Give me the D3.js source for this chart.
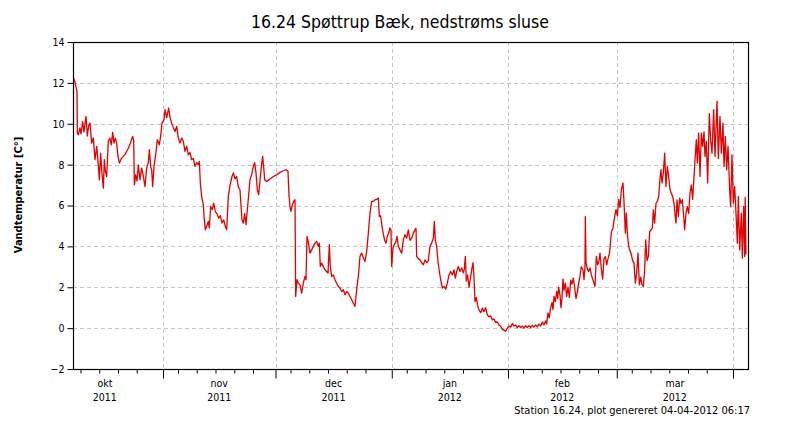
<!DOCTYPE html>
<html><head><meta charset="utf-8">
<script src="https://cdn.jsdelivr.net/npm/d3@7"></script>
<style>
body{margin:0;background:#fff}
text{font-family:"DejaVu Sans Condensed","DejaVu Sans",sans-serif;font-stretch:condensed}
</style>
</head><body>
<svg id="chart" width="800" height="425"></svg>
<script>
// ---- data ----
const titleText = "16.24 Spøttrup Bæk, nedstrøms sluse";
const yAxisTitle = "Vandtemperatur [C°]";
const footerText = "Station 16.24, plot genereret 04-04-2012 06:17";
const domainStart = [2011, 9, 8];   // 8 Oct 2011
const domainEnd = [2012, 3, 5];     // 5 Apr 2012
const yTicks = [-2, 0, 2, 4, 6, 8, 10, 12, 14];
const monthNames = ["okt", "nov", "dec", "jan", "feb", "mar"];
const monthYears = ["2011", "2011", "2011", "2012", "2012", "2012"];
const monthStartDates = ["2011-10-01", "2011-11-01", "2011-12-01", "2012-01-01", "2012-02-01", "2012-03-01", "2012-04-01"];
const minorTickDays = [5, 10, 15, 20, 25];
// days since 8 Oct 2011 00:00
const dayOffsets = [
0,0.44,0.98,1.07,1.16,1.42,1.87,2.13,2.58,2.93,3.47,3.82,4.18,4.53,4.98,5.42,5.87,6.31,6.76,7.02,7.38,7.64,8.09,8.36,8.62,8.98,9.42,9.87,10.22,10.58,10.93,11.29,11.64,12.0,12.36,12.98,13.87,14.76,15.38,15.91,16.18,16.36,16.71,17.07,17.42,17.87,18.31,18.76,19.2,19.64,20.09,20.36,20.71,20.98,21.24,21.6,22.13,22.49,23.02,23.38,23.73,24.27,24.53,24.98,25.51,25.87,26.31,26.76,27.2,27.64,28.09,28.53,28.98,29.42,29.87,30.31,30.76,31.2,31.64,32.09,32.53,32.98,33.42,33.69,33.96,34.31,34.76,35.02,35.29,35.64,36.09,36.36,36.71,37.16,37.51,37.96,38.4,38.84,39.29,39.73,40.18,40.62,40.98,41.42,41.87,42.4,42.76,43.2,43.64,44.09,44.53,
44.8,45.06,45.42,45.78,46.13,46.49,46.84,47.2,47.64,48.09,48.44,48.8,49.15,49.51,49.86,50.22,50.58,50.84,51.11,51.64,52.53,53.42,54.31,55.2,56.09,56.8,57.33,57.6,57.86,58.13,58.49,58.84,59.2,59.38,59.73,60.09,60.53,60.98,61.42,61.86,62.13,62.4,62.76,63.2,63.64,64.09,64.53,64.98,65.42,65.69,65.95,66.31,66.76,67.2,67.64,68.0,68.36,68.62,68.98,69.42,69.87,70.31,70.76,71.2,71.64,72.09,72.53,72.98,73.42,73.87,74.31,74.76,75.2,75.64,76.09,76.53,76.98,77.42,77.87,78.31,78.76,79.2,79.64,80.09,80.53,80.98,81.42,81.69,82.04,82.4,82.76,83.11,83.47,83.82,84.18,84.53,84.8,84.98,85.33,85.69,86.04,86.4,86.76,87.2,87.64,88.09,88.53,88.98,89.42,89.87,90.31,
90.76,91.2,91.47,91.64,92.09,92.53,92.98,93.42,93.87,94.31,94.76,95.2,95.64,96.09,96.36,96.62,96.98,97.33,97.69,98.04,98.49,98.93,99.38,99.82,100.27,100.71,101.16,101.6,101.96,102.31,102.76,103.2,103.64,104.09,104.36,104.62,104.89,105.24,105.6,105.96,106.31,106.67,106.93,107.2,107.56,107.91,108.27,108.71,109.16,109.6,110.04,110.49,110.93,111.38,111.82,112.27,112.71,113.16,113.6,114.04,114.49,114.93,115.38,115.82,116.27,116.71,117.16,117.6,118.04,118.49,118.93,119.38,119.82,120.27,120.71,121.16,121.6,122.04,122.49,122.93,123.38,123.82,124.27,124.71,125.16,125.6,126.04,126.31,126.67,127.02,127.38,127.73,128.0,128.27,128.62,128.98,129.24,129.51,129.87,130.13,130.4,130.67,130.93,131.29,131.64,132.0,132.36,132.71,133.07,133.42,133.78,134.13,134.49,134.84,135.2,135.56,
136.0,136.27,136.53,136.62,136.8,137.16,137.51,137.87,138.22,138.58,138.93,139.2,139.56,139.91,140.27,140.53,140.89,141.24,141.6,141.96,142.31,142.67,143.11,143.56,144.0,144.44,144.8,145.16,145.51,145.87,146.22,146.67,146.93,147.29,147.56,147.82,148.18,148.53,148.89,149.24,149.6,149.96,150.31,150.67,151.02,151.38,151.73,152.09,152.44,152.71,153.07,153.42,153.78,154.13,154.49,154.76,155.11,155.47,155.82,156.18,156.53,156.8,157.07,157.42,157.78,158.13,158.49,158.84,159.2,159.56,159.91,160.27,160.53,160.8,161.07,161.42,161.78,162.13,162.49,162.84,163.11,163.47,163.82,164.18,164.53,164.89,165.24,165.6,165.87,166.22,166.49,166.84,167.2,167.56,167.91,168.27,168.53,168.89,169.24,169.69,170.04,170.4,170.84,171.2,171.73,172.09,172.53,172.89,173.33,173.6,173.96,174.31,174.67,175.11,175.38,175.73,176.09,176.44,176.8,177.16,177.42,177.78,178.22,178.49,178.84,179.11,179.25,179.45
];
const temps = [
12.3,12.1,11.66,11.5,9.54,9.46,9.8,9.5,10.11,9.6,10.36,9.4,9.9,10.03,9.05,9.3,8.24,8.89,7.99,7.26,8.56,7.75,6.85,8.24,7.7,7.42,9.14,9.3,8.97,9.58,9.05,9.3,9.05,8.4,8.08,8.32,8.5,8.8,9.1,9.38,9.2,7.01,7.5,7.2,7.99,7.26,7.83,7.42,6.93,7.83,8.1,8.73,7.9,7.75,6.93,7.9,8.6,9.22,8.97,9.4,10.03,10.2,10.69,10.3,10.77,10.3,10.03,9.8,9.62,9.87,9.3,9.05,9.3,9.14,8.65,8.9,8.48,8.6,8.24,8.3,7.91,8.1,7.99,8.16,7.1,6.44,6.0,5.3,4.81,5.0,5.22,4.9,5.95,5.8,6.12,5.7,5.6,5.38,5.5,5.14,5.3,4.98,4.81,6.44,7.0,7.42,7.59,7.3,7.42,6.9,6.77,
6.0,5.3,5.14,5.6,5.06,5.79,6.5,7.26,7.5,7.91,8.1,7.6,6.77,6.53,7.2,7.9,8.4,7.9,7.26,7.18,7.3,7.42,7.5,7.62,7.7,7.75,7.67,6.5,5.95,5.71,6.04,6.2,6.28,1.55,2.37,2.2,2.12,1.71,2.2,2.53,2.37,4.49,4.2,3.67,3.83,4.0,4.16,4.24,4.0,4.16,3.02,3.18,3.02,2.85,2.77,2.69,4.08,3.02,2.53,2.6,2.37,2.2,2.04,1.96,1.79,1.88,1.63,1.79,1.71,1.55,1.39,1.22,1.06,1.88,2.53,3.51,3.67,3.43,3.26,3.75,4.65,5.63,6.2,6.2,6.28,6.3,6.36,5.46,5.5,4.98,4.6,4.3,4.16,4.5,4.65,4.9,4.8,3.02,3.9,4.1,4.2,4.49,4.0,3.83,3.67,4.32,4.57,4.4,4.81,4.3,4.4,
4.65,4.81,4.89,3.51,3.4,3.34,3.2,3.1,3.34,3.2,3.3,4.0,4.16,4.4,5.22,4.3,4.0,3.26,2.77,2.37,1.96,2.04,1.9,2.2,2.6,2.77,2.6,2.85,2.45,2.77,3.02,2.77,2.94,2.7,2.9,3.51,2.3,2.6,2.0,2.4,2.85,3.2,2.5,1.3,1.5,1.1,0.9,0.75,0.98,0.8,1.0,0.65,0.55,0.6,0.4,0.45,0.28,0.3,0.15,0.1,-0.05,-0.1,-0.15,0.0,0.1,0.05,0.22,0.1,0.15,0.02,0.12,0.03,0.1,0.0,0.12,0.03,0.12,0.02,0.14,0.05,0.16,0.06,0.2,0.1,0.3,0.15,0.35,0.2,0.75,0.5,1.0,1.25,0.9,1.55,1.3,1.8,1.45,2.0,1.6,1.0,1.5,2.4,1.85,2.2,1.55,2.0,1.5,2.35,2.15,2.45,2.0,1.45,1.75,2.2,2.55,3.0,
2.85,2.37,3.0,5.46,3.2,2.9,2.77,2.94,2.6,2.4,2.2,2.04,3.51,3.1,3.3,3.67,2.9,2.4,3.4,3.5,3.1,3.4,3.7,4.7,4.9,5.46,5.8,5.5,6.3,5.9,6.77,7.1,6.2,4.65,5.63,4.65,4.0,3.8,3.6,3.3,3.18,2.2,2.7,3.67,2.12,2.5,2.12,2.04,2.85,4.32,3.3,3.5,4.73,4.8,4.9,5.79,5.14,6.12,6.2,6.44,7.3,7.75,7.1,7.59,8.56,6.93,7.91,7.42,6.77,6.6,6.44,6.1,5.6,5.14,6.28,5.46,6.36,6.1,6.28,5.5,4.81,5.63,5.95,5.6,6.6,7.01,6.3,7.4,8.24,9.22,8.08,9.54,7.42,9.54,8.89,9.6,8.4,9.14,7.1,10.5,9.22,8.56,10.69,8.4,11.1,8.3,10.36,8.56,10.03,7.91,9.38,7.75,8.89,6.77,5.95,8.48,6.12,6.93,5.63,4.16,6.44,3.83,5.63,3.43,5.95,3.51,6.4,3.6
];

// ---- chart ----
const svg = d3.select("#chart");
const M = {left: 73, right: 748, top: 42, bottom: 369};
const t0 = new Date(...domainStart), t1 = new Date(...domainEnd);
const x = d3.scaleTime().domain([t0, t1]).range([M.left, M.right]);
const y = d3.scaleLinear().domain([yTicks[0], yTicks[yTicks.length - 1]]).range([M.bottom, M.top]);
const parseDay = d3.timeParse("%Y-%m-%d");
const monthStarts = monthStartDates.map(parseDay);
const data = dayOffsets.map((d, i) => ({t: new Date(+t0 + d * 864e5), v: temps[i]}));

// grid
const grid = svg.append("g").attr("stroke", "#c4c4c4").attr("stroke-dasharray", "4,3").attr("stroke-width", 1);
yTicks.slice(1, -1).forEach(v => {
  grid.append("line").attr("x1", M.left).attr("x2", M.right)
    .attr("y1", Math.round(y(v)) + 0.5).attr("y2", Math.round(y(v)) + 0.5);
});
monthStarts.filter(d => d > t0 && d < t1).forEach(d => {
  grid.append("line").attr("y1", M.top).attr("y2", M.bottom)
    .attr("x1", Math.round(x(d)) + 0.5).attr("x2", Math.round(x(d)) + 0.5);
});

// line
svg.append("clipPath").attr("id", "clip").append("rect")
  .attr("x", M.left).attr("y", M.top).attr("width", M.right - M.left).attr("height", M.bottom - M.top);
svg.append("path").datum(data)
  .attr("clip-path", "url(#clip)")
  .attr("fill", "none").attr("stroke", "#e40000").attr("stroke-width", 1.3).attr("stroke-linejoin", "round")
  .attr("d", d3.line().x(d => x(d.t)).y(d => y(d.v)));

// frame
svg.append("rect").attr("x", M.left + 0.5).attr("y", M.top + 0.5)
  .attr("width", M.right - M.left).attr("height", M.bottom - M.top)
  .attr("fill", "none").attr("stroke", "#000").attr("stroke-width", 1.2);

// y axis
const yAxis = svg.append("g").attr("transform", `translate(${M.left + 0.5},0)`)
  .call(d3.axisLeft(y).tickValues(yTicks).tickSize(6).tickPadding(3));
yAxis.select(".domain").remove();
yAxis.selectAll("text").attr("font-size", 10.5).attr("font-family", null).attr("fill", "#000");
yAxis.selectAll("line").attr("stroke", "#000");

// x axis major + minor
const minorDates = d3.timeDay.range(t0, t1).filter(d => minorTickDays.includes(d.getDate()));
const xMajor = svg.append("g").attr("transform", `translate(0,${M.bottom + 0.5})`)
  .call(d3.axisBottom(x).tickValues(monthStarts.filter(d => d >= t0 && d <= t1)).tickSize(9).tickFormat(""));
xMajor.select(".domain").remove();
const xMinor = svg.append("g").attr("transform", `translate(0,${M.bottom + 0.5})`)
  .call(d3.axisBottom(x).tickValues(minorDates).tickSize(4).tickFormat(""));
xMinor.select(".domain").remove();

// month labels
monthNames.forEach((name, i) => {
  const cx = (x(monthStarts[i]) + x(monthStarts[i + 1])) / 2;
  svg.append("text").attr("x", cx).attr("y", 387).attr("text-anchor", "middle").attr("font-size", 10.5).text(name);
  svg.append("text").attr("x", cx).attr("y", 401).attr("text-anchor", "middle").attr("font-size", 10.5).text(monthYears[i]);
});

// titles
svg.append("text").attr("x", 400).attr("y", 28).attr("text-anchor", "middle").attr("font-size", 17.5).text(titleText);
svg.append("text").attr("transform", "translate(22,195) rotate(-90)").attr("text-anchor", "middle")
  .attr("font-size", 11).attr("font-weight", "bold").text(yAxisTitle);
svg.append("text").attr("x", 750).attr("y", 414).attr("text-anchor", "end").attr("font-size", 11).text(footerText);
</script>
</body></html>
